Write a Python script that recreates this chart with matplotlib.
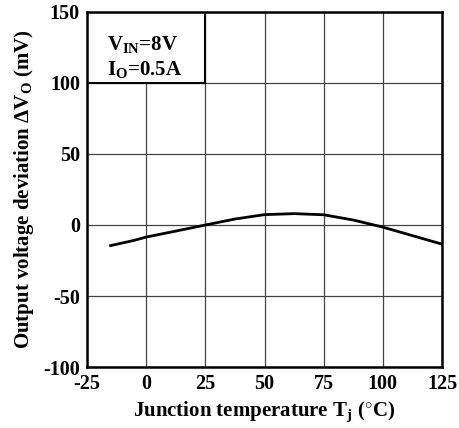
import matplotlib
matplotlib.use('Agg')
import matplotlib.pyplot as plt
from matplotlib.patches import Rectangle

# values
temp_c = [-15, -5, 0, 12.5, 25, 37.5, 50, 62.5, 75, 87.5, 100, 112.5, 125]
dv_mv = [-14.5, -10.8, -8.5, -4.3, 0, 4.2, 7.3, 8.0, 7.2, 3.5, -1.5, -7.5, -13.5]

x_ticks = [-25, 0, 25, 50, 75, 100, 125]
y_ticks = [-100, -50, 0, 50, 100, 150]

plt.rcParams['font.family'] = ['Liberation Serif', 'DejaVu Serif']
plt.rcParams['font.weight'] = 'bold'
plt.rcParams['axes.unicode_minus'] = False
plt.rcParams['mathtext.fontset'] = 'custom'
plt.rcParams['mathtext.rm'] = 'Liberation Serif:bold'
plt.rcParams['mathtext.it'] = 'Liberation Serif:bold'
plt.rcParams['mathtext.bf'] = 'Liberation Serif:bold'

fig = plt.figure(figsize=(4.6, 4.28), dpi=100)
ax = fig.add_axes([0.189, 0.1425, 0.772, 0.8295])

ax.plot(temp_c, dv_mv, color='black', linewidth=2, zorder=3)

ax.set_xlim(-25, 125)
ax.set_ylim(-100, 150)
ax.set_xticks(x_ticks)
ax.set_yticks(y_ticks)
ax.tick_params(length=0, labelsize=14.5, pad=5)
for lbl in ax.get_xticklabels() + ax.get_yticklabels():
    lbl.set_fontweight('bold')
ax.grid(True, color='#444444', linewidth=0.9)
for s in ax.spines.values():
    s.set_linewidth(1.8)

# condition box in the top-left cell
ax.add_patch(Rectangle((-25, 100), 50, 50, facecolor='white', edgecolor='black',
                       linewidth=1.5, zorder=2))
ax.text(-16.5, 127, r'V$_{\mathrm{IN}}$=8V', fontsize=15, fontweight='bold',
        va='center', ha='left', zorder=4)
ax.text(-16.5, 109.5, r'I$_{\mathrm{O}}$=0.5A', fontsize=15, fontweight='bold',
        va='center', ha='left', zorder=4)

ax.set_xlabel(r'Junction temperature T$_{\mathrm{j}}$ ($^{\circ}$C)', fontsize=15,
              fontweight='bold', labelpad=4)
ax.set_ylabel(r'Output voltage deviation $\Delta$V$_{\mathrm{O}}$ (mV)', fontsize=15,
              fontweight='bold', labelpad=5)

fig.savefig('out.png', dpi=100)
